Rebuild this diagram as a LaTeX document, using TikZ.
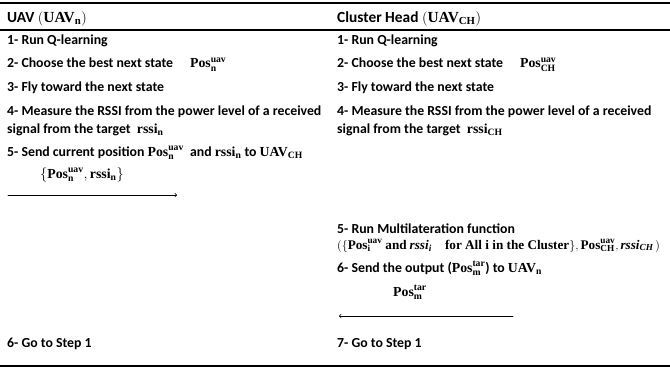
\documentclass[tikz,border=0pt]{standalone}
\usepackage{amsmath}
\usepackage{fontspec}
\setmainfont{Carlito}
\newfontfamily\srf{Liberation Serif}
\usetikzlibrary{arrows}
% serif bold symbol with super- and subscript
\newcommand{\symsup}[3]{\text{\srf\bfseries #1}^{\text{\srf\bfseries #2}}_{\text{\srf\bfseries #3}}}
\newcommand{\symsub}[2]{\text{\srf\bfseries #1}_{\text{\srf\bfseries #2}}}
\newcommand{\symit}[2]{\text{\srf\itshape #1}_{\text{\srf\itshape #2}}}
\newcommand{\symwd}[1]{\text{\srf\bfseries #1}}

\begin{document}
\begin{tikzpicture}[line cap=round,line join=round,>=to,x=1pt,y=-1pt,
  txt/.style={anchor=base west,inner sep=0pt,font=\fontsize{13.8}{16}\selectfont\bfseries},
  head/.style={anchor=base west,inner sep=0pt,font=\fontsize{15.4}{18}\selectfont\bfseries}]

\useasboundingbox (0,0) rectangle (670,369);

\draw [line width=1.5pt] (0,3) -- (670,3);
\draw [line width=1.2pt] (0,30) -- (670,30);
\draw [line width=1.6pt] (0,366) -- (670,366);

% UAV column
\node[head] (lhead) at (7,22.5) {UAV $(\symsub{UAV}{n})$};
\node[txt] (ls1) at (7,45) {1- Run Q-learning};
\node[txt] (ls2) at (7,68) {2- Choose the best next state \quad $\symsup{Pos}{uav}{n}$};
\node[txt] (ls3) at (7,92) {3- Fly toward the next state};
\node[txt] (ls4) at (7,116) {4- Measure the RSSI from the power level of a received};
\node[txt] (ls4b) at (7,133) {signal from the target \ $\symsub{rssi}{n}$};
\node[txt] (ls5) at (7,156) {5- Send current position $\symsup{Pos}{uav}{n}$ \ and $\symsub{rssi}{n}$ to $\symsub{UAV}{CH}$};
\node[txt] (lmsg) at (40,178) {$\{\symsup{Pos}{uav}{n},\symsub{rssi}{n}\}$};
\node[txt] (ls6) at (7,347) {6- Go to Step 1};

% Cluster head column
\node[head] (rhead) at (337,22.5) {Cluster Head $(\symsub{UAV}{CH})$};
\node[txt] (rs1) at (337,45) {1- Run Q-learning};
\node[txt] (rs2) at (337,68) {2- Choose the best next state \quad $\symsup{Pos}{uav}{CH}$};
\node[txt] (rs3) at (337,92) {3- Fly toward the next state};
\node[txt] (rs4) at (337,116) {4- Measure the RSSI from the power level of a received};
\node[txt] (rs4b) at (337,133) {signal from the target \ $\symsub{rssi}{CH}$};
\node[txt] (rs5) at (337,233) {5- Run Multilateration function};
\node[txt,font=\fontsize{13.2}{15}\selectfont\bfseries] (rs5b) at (337,249) {$(\{\symsup{Pos}{uav}{i}\ \symwd{and}\ \symit{rssi}{i}\quad \symwd{for All i in the Cluster}\},\symsup{Pos}{uav}{CH},\symit{rssi}{CH}\,)$};
\node[txt] (rs6) at (337,272) {6- Send the output ($\symsup{Pos}{tar}{m}$) to $\symsub{UAV}{n}$};
\node[txt] (rmsg) at (393,296) {$\symsup{Pos}{tar}{m}$};
\node[txt] (rs7) at (337,347) {7- Go to Step 1};

% messages
\coordinate (sendA) at (8,195);
\coordinate (sendB) at (177,195);
\coordinate (backA) at (513,316);
\coordinate (backB) at (339,316);
\draw [->,line width=0.7pt] (sendA) -- (sendB);
\draw [->,line width=0.7pt] (backA) -- (backB);

\end{tikzpicture}
\end{document}
